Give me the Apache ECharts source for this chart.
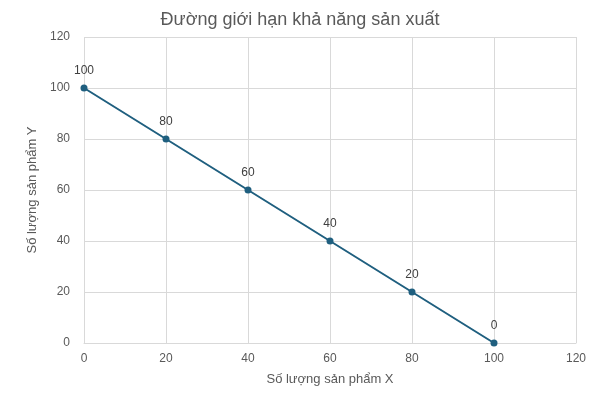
<!DOCTYPE html>
<html>
<head>
<meta charset="utf-8">
<script src="https://cdn.jsdelivr.net/npm/echarts@6/dist/echarts.min.js"></script>
<style>html,body{margin:0;padding:0;background:#fff}#chart{width:600px;height:400px}</style>
</head>
<body>
<div id="chart"></div>
<script>
// dữ liệu
var quantityX = [0, 20, 40, 60, 80, 100];
var quantityY = [100, 80, 60, 40, 20, 0];

var chart = echarts.init(document.getElementById('chart'));
var points = quantityX.map(function (x, i) { return [x, quantityY[i]]; });

var option = {
    animation: false,
    textStyle: { fontFamily: 'Liberation Sans, Arial, sans-serif' },
    title: {
        text: 'Đường giới hạn khả năng sản xuất',
        left: 'center',
        top: 6,
        textStyle: { fontSize: 18, fontWeight: 'normal', color: '#595959' }
    },
    grid: { left: 84, right: 24, top: 37, bottom: 57 },
    xAxis: {
        type: 'value',
        min: 0, max: 120, interval: 20,
        name: 'Số lượng sản phẩm X',
        nameLocation: 'middle',
        nameGap: 30,
        nameTextStyle: { fontSize: 13, color: '#595959' },
        axisLine: { show: true, lineStyle: { color: '#d9d9d9' } },
        axisTick: { show: false },
        axisLabel: { color: '#595959', fontSize: 12, margin: 10 },
        splitLine: { show: true, lineStyle: { color: '#d9d9d9' } }
    },
    yAxis: {
        type: 'value',
        min: 0, max: 120, interval: 20,
        name: 'Số lượng sản phẩm Y',
        nameLocation: 'middle',
        nameGap: 40,
        nameTextStyle: { fontSize: 13, color: '#595959' },
        axisLine: { show: false },
        axisTick: { show: false },
        axisLabel: { color: '#595959', fontSize: 12, margin: 14 },
        splitLine: { show: true, lineStyle: { color: '#d9d9d9' } }
    },
    series: [
        {
            type: 'line',
            data: points,
            color: '#1f5f7f',
            lineStyle: { width: 2, color: '#1f5f7f' },
            symbol: 'circle',
            symbolSize: 7,
            label: {
                show: true,
                position: 'top',
                distance: 8,
                color: '#404040',
                fontSize: 12,
                formatter: function (p) { return p.value[1]; }
            }
        }
    ]
};

chart.setOption(option);
</script>
</body>
</html>
